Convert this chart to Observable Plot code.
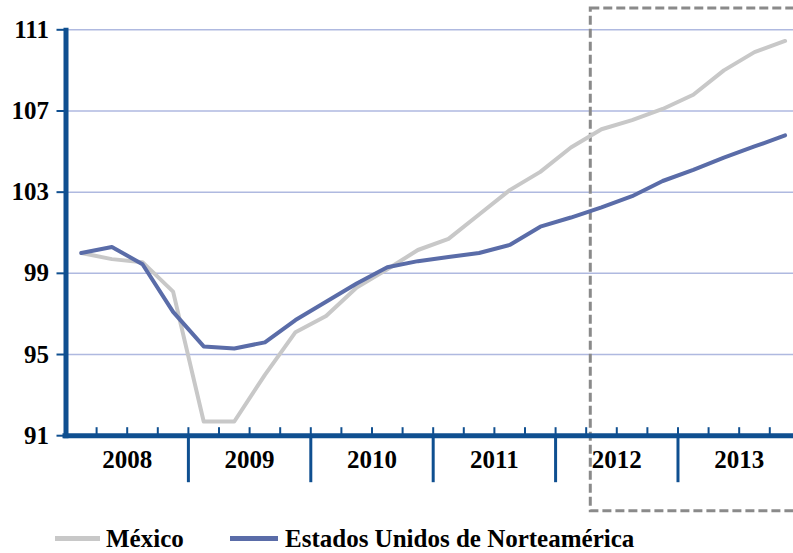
<!DOCTYPE html>
<html>
<head>
<meta charset="utf-8">
<script src="https://cdn.jsdelivr.net/npm/d3@7"></script>
<script src="https://cdn.jsdelivr.net/npm/@observablehq/plot@0.6"></script>
<style>
  html, body { margin: 0; padding: 0; background: #fff; }
  #wrap { position: relative; width: 793px; height: 553px; overflow: hidden; background: #fff; }
  #legend { position: absolute; left: 0; top: 526px; width: 793px; height: 27px;
            font-family: "Times New Roman", "Liberation Serif", Tinos, "Nimbus Roman", serif; font-weight: bold; font-size: 25px; line-height: 25px; color: #000; }
  .sw { position: absolute; height: 5px; top: 10px; }
  .lb { position: absolute; top: 0; white-space: nowrap; }
  svg text { font-family: "Times New Roman", "Liberation Serif", Tinos, "Nimbus Roman", serif !important; }
</style>
</head>
<body>
<div id="wrap"></div>
<script>
// ---- data ----
const years = ["2008", "2009", "2010", "2011", "2012", "2013"];
const mexico = [100.0, 99.7, 99.55, 98.1, 91.7, 91.7, 94.0, 96.1, 96.9, 98.3, 99.2, 100.15,
                100.7, 101.9, 103.1, 104.0, 105.2, 106.1, 106.55, 107.1, 107.8, 109.0, 109.9, 110.45];
const usa    = [100.0, 100.3, 99.45, 97.1, 95.4, 95.3, 95.6, 96.7, 97.6, 98.5, 99.3, 99.6,
                99.8, 100.0, 100.4, 101.3, 101.75, 102.25, 102.8, 103.55, 104.1, 104.7, 105.25, 105.8];
const yTicks = [91, 95, 99, 103, 107, 111];
const seriesNames = ["México", "Estados Unidos de Norteamérica"];
// forecast box (quarter index / value units)
const boxQuarterStart = 17.15;
const boxValueRange = [87.28, 112.05];

// ---- build ----
const colors = {"México": "#c8c8c8", "Estados Unidos de Norteamérica": "#5a6ca8"};
const rows = [];
mexico.forEach((v, i) => rows.push({q: i + 0.5, v, s: seriesNames[0]}));
usa.forEach((v, i) => rows.push({q: i + 0.5, v, s: seriesNames[1]}));
const nQ = years.length * 4;
const quarterBounds = d3.range(1, nQ);
const yearBounds = d3.range(4, nQ, 4);
const axisBlue = "#0f4f90";
const font = "'Times New Roman', 'Liberation Serif', Tinos, serif";

const chart = Plot.plot({
  width: 793,
  height: 520,
  marginLeft: 65.5,
  marginRight: 0,
  marginTop: 29.3,
  marginBottom: 84.8,
  style: {fontFamily: font, background: "white", overflow: "hidden"},
  x: {domain: [0, 23.775], axis: null},
  y: {domain: [91, 111], axis: null},
  marks: [
    Plot.ruleY(yTicks.filter(d => d > 91), {y: d => d, stroke: "#afb9e0", strokeWidth: 1.5}),
    Plot.rect([{x1: boxQuarterStart, x2: nQ + 1, y1: boxValueRange[0], y2: boxValueRange[1]}],
      {x1: "x1", x2: "x2", y1: "y1", y2: "y2", fill: "none", stroke: "#8a8a8a", strokeWidth: 3, strokeDasharray: "9,4"}),
    Plot.line(rows, {x: "q", y: "v", z: "s", stroke: d => colors[d.s], strokeWidth: 4, strokeLinejoin: "round", strokeLinecap: "round"}),
    // y axis bar + ticks
    Plot.ruleX([0], {x: d => d, y1: 111, y2: 91, insetTop: -1.5, insetBottom: -3, stroke: axisBlue, strokeWidth: 5}),
    Plot.ruleY(yTicks, {y: d => d, x1: 0, x2: 0, insetLeft: -9, stroke: axisBlue, strokeWidth: 2}),
    Plot.text(yTicks, {y: d => d, x: 0, dx: -17, text: d => String(d), textAnchor: "end",
      fontSize: 25, fontWeight: "bold", fontFamily: font, fill: "black"}),
    // x axis bar + ticks
    Plot.ruleY([91], {y: d => d, x1: 0, x2: 23.775, insetLeft: -3, stroke: axisBlue, strokeWidth: 5}),
    Plot.ruleX(quarterBounds, {x: d => d, y1: 91, y2: 91, insetTop: -8, stroke: axisBlue, strokeWidth: 2}),
    Plot.ruleX(yearBounds, {x: d => d, y1: 91, y2: 91, insetBottom: -47, stroke: axisBlue, strokeWidth: 3}),
    Plot.text(years, {x: (d, i) => i * 4 + 2, y: () => 91, dy: 24, text: d => d,
      fontSize: 25, fontWeight: "bold", fontFamily: font, fill: "black"})
  ]
});

const wrap = document.getElementById("wrap");
wrap.appendChild(chart);

// legend below
const legend = document.createElement("div");
legend.id = "legend";
const lay = [{sw: [55, 100], tx: 106}, {sw: [230, 278], tx: 285}];
seriesNames.forEach((name, i) => {
  const sw = document.createElement("div");
  sw.className = "sw";
  sw.style.left = lay[i].sw[0] + "px";
  sw.style.width = (lay[i].sw[1] - lay[i].sw[0]) + "px";
  sw.style.background = colors[name];
  const lb = document.createElement("div");
  lb.className = "lb";
  lb.style.left = lay[i].tx + "px";
  lb.textContent = name;
  legend.appendChild(sw);
  legend.appendChild(lb);
});
wrap.appendChild(legend);
</script>
</body>
</html>
